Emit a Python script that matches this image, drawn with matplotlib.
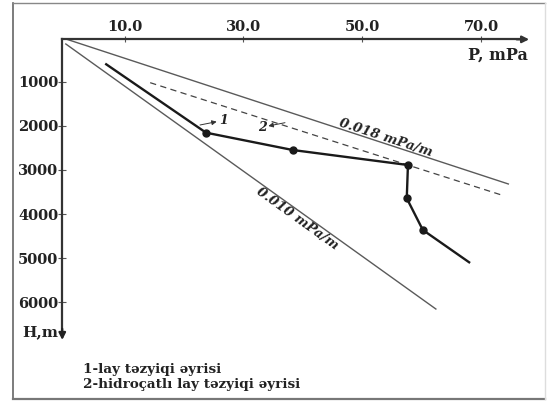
import matplotlib
matplotlib.use('Agg')
import matplotlib.pyplot as plt
from matplotlib.lines import Line2D

# Layer pressure curve (1): pressure P, mPa vs depth H, m
p_layer = [6.9, 23.7, 38.3, 57.7, 57.5, 60.2, 68.0]
h_layer = [605, 2155, 2548, 2888, 3642, 4360, 5093]
dot_idx = [1, 2, 3, 4, 5]

# Fracturing layer pressure curve (2), dashed
p_frac = [14.3, 73.8]
h_frac = [1022, 3583]

# Pressure gradient reference lines
p_grad_018 = [0.3, 74.6]
h_grad_018 = [40, 3318]
p_grad_010 = [0.1, 62.4]
h_grad_010 = [145, 6152]

x_ticks = [10, 30, 50, 70]
x_ticklabels = ['10.0', '30.0', '50.0', '70.0']
y_ticks = [1000, 2000, 3000, 4000, 5000, 6000]
y_ticklabels = ['1000', '2000', '3000', '4000', '5000', '6000']

legend_lines = ['1-lay təzyiqi əyrisi', '2-hidroçatlı lay təzyiqi əyrisi']

FONT = 'DejaVu Serif'
TXT = '#222222'


def main():
    fig = plt.figure(figsize=(5.47, 4.01), dpi=100)
    ax = fig.add_axes([0, 0, 1, 1])
    ax.set_xlim(-10.98, 81.11)
    ax.set_ylim(8237, -852)
    ax.patch.set_alpha(0)

    # axes: top spine is the pressure axis, left spine the depth axis
    for side in ['right', 'bottom']:
        ax.spines[side].set_visible(False)
    ax.spines['top'].set_position(('data', 40))
    ax.spines['top'].set_bounds(-0.5, 77)
    ax.spines['left'].set_position(('data', -0.5))
    ax.spines['left'].set_bounds(40, 6700)
    for side in ['top', 'left']:
        ax.spines[side].set_linewidth(1.6)
        ax.spines[side].set_color('#333333')

    ax.xaxis.set_ticks_position('top')
    ax.set_xticks(x_ticks)
    ax.set_xticklabels(x_ticklabels)
    ax.set_yticks(y_ticks)
    ax.set_yticklabels(y_ticklabels)
    ax.tick_params(axis='x', direction='inout', length=5, width=0.8,
                   color='#555555', pad=1, labelsize=10.5, labelcolor=TXT)
    ax.tick_params(axis='y', direction='inout', length=6, width=0.8,
                   color='#555555', pad=0, labelsize=10.5, labelcolor=TXT)
    for lab in ax.get_xticklabels() + ax.get_yticklabels():
        lab.set_fontfamily(FONT)
        lab.set_fontweight('bold')

    # arrow heads on the axes
    ax.annotate('', xy=(78.1, 40), xytext=(76, 40),
                arrowprops=dict(arrowstyle='-|>', color='#333333', lw=1.6,
                                mutation_scale=10, shrinkA=0, shrinkB=0))
    ax.annotate('', xy=(-0.5, 6854), xytext=(-0.5, 6600),
                arrowprops=dict(arrowstyle='-|>', color='#222222', lw=1.6,
                                mutation_scale=10, shrinkA=0, shrinkB=0))
    ax.text(72.9, 388, 'P, mPa', fontfamily=FONT, fontweight='bold',
            fontsize=11.5, color=TXT, ha='center', va='center')
    ax.text(-4.2, 6673, 'H,m', fontfamily=FONT, fontweight='bold',
            fontsize=11, color=TXT, ha='center', va='center')

    # gradient lines
    ax.plot(p_grad_018, h_grad_018, color='#5a5a5a', lw=1.0)
    ax.plot(p_grad_010, h_grad_010, color='#5a5a5a', lw=1.0)
    ax.text(54.0, 2264, '0.018 mPa/m', fontfamily=FONT, fontweight='bold',
            fontstyle='italic', fontsize=9.5, color=TXT, rotation=-18.1,
            rotation_mode='anchor', ha='center', va='center')
    ax.text(39.0, 4112, '0.010 mPa/m', fontfamily=FONT, fontweight='bold',
            fontstyle='italic', fontsize=9.5, color=TXT, rotation=-35.6,
            rotation_mode='anchor', ha='center', va='center')

    # curves
    ax.plot(p_frac, h_frac, color='#444444', lw=0.9, dashes=(5, 3.5))
    ax.plot(p_layer, h_layer, color='#1a1a1a', lw=1.7)
    ax.plot([p_layer[i] for i in dot_idx], [h_layer[i] for i in dot_idx],
            'o', color='#1a1a1a', markersize=5)

    # curve labels with pointers
    ax.annotate('', xy=(25.5, 1906), xytext=(22.7, 1981),
                arrowprops=dict(arrowstyle='-|>', color='#333333', lw=0.7,
                                mutation_scale=7, shrinkA=0, shrinkB=0))
    ax.text(26.6, 1868, '1', fontfamily=FONT, fontstyle='italic',
            fontweight='bold', fontsize=9, color=TXT, ha='center', va='center')
    ax.annotate('', xy=(34.2, 2004), xytext=(37.0, 1929),
                arrowprops=dict(arrowstyle='-|>', color='#333333', lw=0.7,
                                mutation_scale=7, shrinkA=0, shrinkB=0))
    ax.text(33.2, 2033, '2', fontfamily=FONT, fontstyle='italic',
            fontweight='bold', fontsize=9, color=TXT, ha='center', va='center')

    # legend text
    ax.text(3.0, 7534, legend_lines[0], fontfamily=FONT, fontweight='bold',
            fontsize=9.7, color=TXT, ha='left', va='center')
    ax.text(3.0, 7874, legend_lines[1], fontfamily=FONT, fontweight='bold',
            fontsize=9.7, color=TXT, ha='left', va='center')

    # outer frame
    W, H = 547, 401
    fx = lambda px: px / W
    fy = lambda py: 1 - py / H
    fig.add_artist(Line2D([fx(13), fx(13)], [fy(3), fy(399)], color='#666666', lw=1.2))
    fig.add_artist(Line2D([fx(13), fx(545)], [fy(399), fy(399)], color='#777777', lw=1.6))
    fig.add_artist(Line2D([fx(13), fx(545)], [fy(3), fy(3)], color='#888888', lw=1.0))
    fig.add_artist(Line2D([fx(545), fx(545)], [fy(3), fy(399)], color='#dddddd', lw=1.0))

    fig.savefig('out.png', dpi=100)


if __name__ == '__main__':
    main()
